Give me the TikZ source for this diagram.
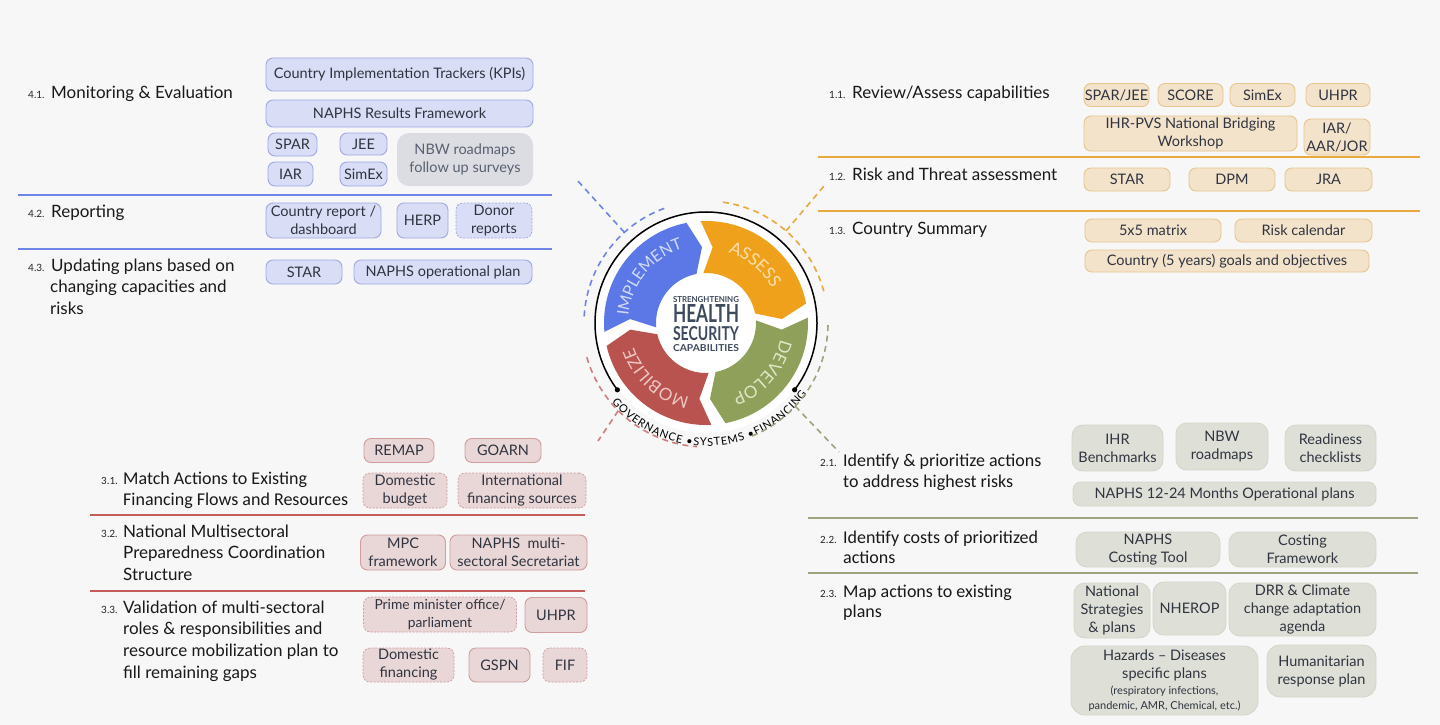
\documentclass[tikz,border=0pt]{standalone}
\usepackage{fontspec}
\usepackage{graphicx}
\setmainfont{Lato}
\newfontfamily\calib{Carlito}
\usetikzlibrary{decorations.text,calc}
\newcommand\fsz[2]{\fontsize{#1}{#2}\selectfont}
\definecolor{bgc}{HTML}{F7F7F7}
\definecolor{boxtext}{HTML}{2F3440}
\definecolor{bfill}{HTML}{D9DDF5}
\definecolor{bdraw}{HTML}{9FA9E4}
\definecolor{bline}{HTML}{6E84E8}
\definecolor{nbwfill}{HTML}{DCDDE3}
\definecolor{nbwtext}{HTML}{596070}
\definecolor{ofill}{HTML}{F4E3CB}
\definecolor{odraw}{HTML}{E7C58E}
\definecolor{oline}{HTML}{E8A93F}
\definecolor{rfill}{HTML}{E9D6D6}
\definecolor{rdraw}{HTML}{D09C9C}
\definecolor{rline}{HTML}{C45C5C}
\definecolor{gfill}{HTML}{DEE0D7}
\definecolor{gdraw}{HTML}{D3D6C9}
\definecolor{gline}{HTML}{9EA37F}
\definecolor{segB}{HTML}{5B78E6}
\definecolor{segO}{HTML}{F0A11C}
\definecolor{segG}{HTML}{8EA05A}
\definecolor{segR}{HTML}{B9534F}
\definecolor{txB}{HTML}{D3DBFA}
\definecolor{txO}{HTML}{FAE0AE}
\definecolor{txG}{HTML}{E0E6C8}
\definecolor{txR}{HTML}{EEC6C4}
\definecolor{ctext}{HTML}{3E4A5E}
\newcommand\wseg[3]{%
  \fill[#1] (#2:102) arc[start angle=#2, end angle=#3, radius=102] -- ({#3-8}:76) -- (#3:50)
    arc[start angle=#3, end angle=#2, radius=50] -- ({#2-8}:76) -- cycle;}
\begin{document}
\begin{tikzpicture}[x=1pt,y=1pt,
  box/.style={rounded corners=7pt, line width=0.9pt, inner sep=0pt, align=center, text=boxtext, font=\fsz{14.5}{18}},
  bb/.style={box, fill=bfill, draw=bdraw},
  nbw/.style={box, fill=nbwfill, draw=none, rounded corners=12pt, text=nbwtext, font=\fsz{14.5}{18}},
  ob/.style={box, fill=ofill, draw=odraw},
  rb/.style={box, fill=rfill, draw=rdraw},
  rbd/.style={rb, line width=0.7pt, dash pattern=on 2pt off 1.5pt},
  bbd/.style={bb, line width=0.7pt, dash pattern=on 2pt off 1.5pt},
  gb/.style={box, fill=gfill, draw=gdraw, rounded corners=11pt},
  hd/.style={anchor=base west, inner sep=0pt, font=\fsz{17}{20}, text=black!90},
  hdc/.style={anchor=base west, inner sep=0pt, font=\calib\fsz{18}{20}, text=black!90},
  num/.style={anchor=base west, inner sep=0pt, font=\fsz{10}{12}, text=black!85},
  numc/.style={anchor=base west, inner sep=0pt, font=\calib\fsz{11}{12}, text=black!85},
  dsh/.style={line width=1.6pt, dash pattern=on 6pt off 4.5pt}
]
\fill[bgc] (0,0) rectangle (1440,-725);
\useasboundingbox (0,0) rectangle (1440,-725);

% ---------------- wheel ----------------
\begin{scope}[shift={(706,-323)}]
  \fill[white] (0,0) circle (110);
  \wseg{segB}{185}{101}
  \wseg{segO}{93}{11}
  \wseg{segG}{3}{-79}
  \wseg{segR}{-87}{-167}
  \path[decorate, decoration={text along path, text align=center,
     text={|\fsz{16}{16}\color{txB}|IMPLEMENT}}] (175:78) arc[start angle=175, end angle=107, radius=78];
  \path[decorate, decoration={text along path, text align=center,
     text={|\fsz{17}{17}\color{txO}|ASSESS}}] (87:74) arc[start angle=87, end angle=13, radius=74];
  \path[decorate, decoration={text along path, text align=center,
     text={|\fsz{17}{17}\color{txG}|DEVELOP}}] (-3:76) arc[start angle=-3, end angle=-79, radius=76];
  \path[decorate, decoration={text along path, text align=center,
     text={|\fsz{17}{17}\color{txR}|MOBILIZE}}] (-93:76) arc[start angle=-93, end angle=-171, radius=76];
  \draw[line width=1.5pt] (-37:111) arc[start angle=-37, end angle=217, radius=111];
  \fill (-37:111) circle (2.6);
  \fill (217:111) circle (2.6);
  \path[decorate, decoration={text along path, text align={fit to path},
     text={|\fsz{11}{11}\color{black}|GOVERNANCE •SYSTEMS •FINANCING}}] (220:123) arc[start angle=220, end angle=325, radius=123];
  % dashed arcs
  \draw[dsh, bline] (110:122) arc[start angle=110, end angle=178, radius=122];
  \draw[dsh, oline] (82:122) arc[start angle=82, end angle=14, radius=122];
  \draw[dsh, gline] (-1:122) arc[start angle=-1, end angle=-70, radius=122];
  \draw[dsh, rline!80] (196:124) arc[start angle=196, end angle=266, radius=124];
  \coordinate (bA) at (132:122);
  \coordinate (oA) at (49:122);
  \coordinate (gA) at (-43:122);
  \coordinate (rA) at (225:124);
  \node[inner sep=0pt, text=ctext, font=\bfseries] (c1) at (0,23.5) {\resizebox{66pt}{6pt}{STRENGHTENING}};
  \node[inner sep=0pt, text=ctext, font=\bfseries] (c2) at (0,9.5) {\resizebox{66pt}{18pt}{HEALTH}};
  \node[inner sep=0pt, text=ctext, font=\bfseries] (c3) at (0,-11) {\resizebox{66pt}{14pt}{SECURITY}};
  \node[inner sep=0pt, text=ctext, font=\bfseries] (c4) at (0,-25) {\resizebox{66pt}{7pt}{CAPABILITIES}};
\end{scope}
\coordinate (bE) at (577,-180);
\coordinate (oE) at (824,-186);
\coordinate (gE) at (839,-452);
\coordinate (rE) at (598,-441);
\draw[dsh, bline] (bA) -- (bE);
\draw[dsh, oline] (oA) -- (oE);
\draw[dsh, gline] (gA) -- (gE);
\draw[dsh, rline!80] (rA) -- (rE);

% ---------------- 4.x ----------------
\node[num] (n41) at (28,-98) {4.1.};
\node[hd] (h41) at (51,-98) {Monitoring \& Evaluation};
\node[bb, minimum width=267pt, minimum height=33pt] (kpi) at (399.5,-74.5) {Country Implementation Trackers (KPIs)};
\node[bb, minimum width=267pt, minimum height=27pt] (rf) at (399.5,-113.5) {NAPHS Results Framework};
\node[bb, minimum width=49pt, minimum height=23pt] (spar) at (292.5,-144.5) {SPAR};
\node[bb, minimum width=47pt, minimum height=22pt] (jee) at (363.5,-144) {JEE};
\node[bb, minimum width=45pt, minimum height=24pt] (iar) at (290.5,-174) {IAR};
\node[bb, minimum width=47pt, minimum height=24pt] (simex) at (363.5,-174) {SimEx};
\node[nbw, minimum width=136pt, minimum height=53pt] (nbwf) at (465,-159.5) {NBW roadmaps\\follow up surveys};
\draw[bline, line width=1.5pt] (18,-195) -- (552,-195);
\node[num] (n42) at (28,-217) {4.2.};
\node[hd] (h42) at (51,-217) {Reporting};
\node[bb, minimum width=115pt, minimum height=35pt] (crd) at (323.5,-220.5) {Country report /\\dashboard};
\node[bb, minimum width=51pt, minimum height=35pt] (herp) at (422.5,-220.5) {HERP};
\node[bbd, minimum width=76pt, minimum height=35pt] (donor) at (494,-220.5) {Donor\\reports};
\draw[bline, line width=1.5pt] (18,-249) -- (552,-249);
\node[num] (n43) at (28,-271) {4.3.};
\node[hd] (h43a) at (51,-271) {Updating plans based on};
\node[hd] (h43b) at (50,-292) {changing capacities and};
\node[hd] (h43c) at (50,-314) {risks};
\node[bb, minimum width=76pt, minimum height=24pt] (star4) at (304,-272) {STAR};
\node[bb, minimum width=178pt, minimum height=24pt] (opplan) at (443,-272) {NAPHS operational plan};

% ---------------- 1.x ----------------
\node[num] (n11) at (829,-99) {1.1.};
\node[hd] (h11) at (852,-99) {Review/Assess capabilities};
\node[ob, minimum width=65pt, minimum height=23pt] (spj) at (1116.5,-95) {SPAR/JEE};
\node[ob, minimum width=65pt, minimum height=23pt] (score) at (1190.5,-95) {SCORE};
\node[ob, minimum width=65pt, minimum height=23pt] (simex1) at (1262.5,-95) {SimEx};
\node[ob, minimum width=64pt, minimum height=23pt] (uhpr1) at (1338,-95) {UHPR};
\node[ob, minimum width=213pt, minimum height=35pt] (ihrpvs) at (1190.5,-133.5) {IHR-PVS National Bridging\\Workshop};
\node[ob, minimum width=66pt, minimum height=36pt] (aar) at (1337,-137) {IAR/\\AAR/JOR};
\draw[oline, line width=2pt] (818,-157) -- (1420,-157);
\node[num] (n12) at (829,-180) {1.2.};
\node[hd] (h12) at (852,-180) {Risk and Threat assessment};
\node[ob, minimum width=86pt, minimum height=23pt] (star1) at (1127,-179.5) {STAR};
\node[ob, minimum width=86pt, minimum height=23pt] (dpm) at (1232,-179.5) {DPM};
\node[ob, minimum width=87pt, minimum height=23pt] (jra) at (1328.5,-179.5) {JRA};
\draw[oline, line width=2pt] (818,-211) -- (1420,-211);
\node[num] (n13) at (829,-234) {1.3.};
\node[hd] (h13) at (852,-234) {Country Summary};
\node[ob, minimum width=136pt, minimum height=23pt] (m55) at (1153,-230.5) {5x5 matrix};
\node[ob, minimum width=137pt, minimum height=23pt] (rcal) at (1303.5,-230.5) {Risk calendar};
\node[ob, minimum width=284pt, minimum height=22pt] (goals) at (1227,-261) {Country (5 years) goals and objectives};

% ---------------- 3.x ----------------
\node[rb, minimum width=70pt, minimum height=24pt] (remap) at (399,-450.5) {REMAP};
\node[rb, minimum width=76pt, minimum height=24pt] (goarn) at (503,-450.5) {GOARN};
\node[rbd, minimum width=84pt, minimum height=35pt] (dombud) at (405,-490.5) {Domestic\\budget};
\node[rbd, minimum width=128pt, minimum height=35pt] (intl) at (522,-490.5) {International\\financing sources};
\node[numc] (n31) at (101,-484) {3.1.};
\node[hdc] (h31a) at (123,-484) {Match Actions to Existing};
\node[hdc] (h31b) at (123,-505) {Financing Flows and Resources};
\draw[rline, line width=1.5pt] (90,-515) -- (585,-515);
\node[num] (n32) at (101,-537) {3.2.};
\node[hd] (h32a) at (123,-537) {National Multisectoral};
\node[hd] (h32b) at (123,-558) {Preparedness Coordination};
\node[hd] (h32c) at (123,-580) {Structure};
\node[rb, minimum width=85pt, minimum height=35pt] (mpc) at (403,-552.5) {MPC\\framework};
\node[rb, minimum width=137pt, minimum height=35pt] (sec) at (518.5,-552.5) {NAPHS\ \ multi-\\sectoral Secretariat};
\draw[rline, line width=1.5pt] (90,-591) -- (585,-591);
\node[num] (n33) at (101,-613) {3.3.};
\node[hd] (h33a) at (123,-613) {Validation of multi-sectoral};
\node[hd] (h33b) at (123,-634) {roles \& responsibilities and};
\node[hd] (h33c) at (123,-656) {resource mobilization plan to};
\node[hd] (h33d) at (123,-678) {fill remaining gaps};
\node[rbd, minimum width=153pt, minimum height=35pt, font=\fsz{13.8}{18}] (pm) at (440,-614.5) {Prime minister office/\\parliament};
\node[rb, minimum width=62pt, minimum height=35pt] (uhpr3) at (556,-615) {UHPR};
\node[rbd, minimum width=91pt, minimum height=34pt] (domfin) at (408.5,-665) {Domestic\\financing};
\node[rb, minimum width=61pt, minimum height=34pt] (gspn) at (499.5,-665) {GSPN};
\node[rbd, minimum width=44pt, minimum height=34pt] (fif) at (565,-665) {FIF};

% ---------------- 2.x ----------------
\node[numc] (n21) at (820,-466) {2.1.};
\node[hdc] (h21a) at (843,-466) {Identify \& prioritize actions};
\node[hdc] (h21b) at (843,-487) {to address highest risks};
\node[gb, minimum width=91pt, minimum height=46pt] (ihrb) at (1117.5,-448) {IHR\\Benchmarks};
\node[gb, minimum width=92pt, minimum height=47pt] (nbwr) at (1222,-446.5) {NBW\\roadmaps};
\node[gb, minimum width=91pt, minimum height=46pt] (ready) at (1330.5,-448) {Readiness\\checklists};
\node[gb, rounded corners=8pt, minimum width=303pt, minimum height=24pt] (naphs12) at (1224.5,-494) {NAPHS 12-24 Months Operational plans};
\draw[gline, line width=1.5pt] (808,-518) -- (1418,-518);
\node[numc] (n22) at (820,-543) {2.2.};
\node[hdc] (h22a) at (843,-543) {Identify costs of prioritized};
\node[hdc] (h22b) at (843,-563) {actions};
\node[gb, minimum width=144pt, minimum height=35pt] (cost) at (1148,-549.5) {NAPHS\\Costing Tool};
\node[gb, minimum width=147pt, minimum height=35pt] (cfw) at (1302.5,-549.5) {Costing\\Framework};
\draw[gline, line width=1.5pt] (808,-573) -- (1418,-573);
\node[numc] (n23) at (820,-597) {2.3.};
\node[hdc] (h23a) at (843,-597) {Map actions to existing};
\node[hdc] (h23b) at (843,-617) {plans};
\node[gb, minimum width=76pt, minimum height=55pt] (nsp) at (1112,-610.5) {National\\Strategies\\\& plans};
\node[gb, minimum width=73pt, minimum height=53pt] (nherop) at (1189.5,-608.5) {NHEROP};
\node[gb, minimum width=147pt, minimum height=53pt] (drr) at (1302.5,-609.5) {DRR \& Climate\\change adaptation\\agenda};
\node[gb, minimum width=187pt, minimum height=69pt, rounded corners=14pt] (haz) at (1164.5,-680.5) {Hazards -- Diseases\\specific plans\\[-2pt]{\fsz{11}{15}(respiratory infections,}\\[-3pt]{\fsz{11}{15}pandemic, AMR, Chemical, etc.)}};
\node[gb, minimum width=109pt, minimum height=52pt, rounded corners=13pt] (hum) at (1321.5,-671) {Humanitarian\\response plan};
\end{tikzpicture}
\end{document}
